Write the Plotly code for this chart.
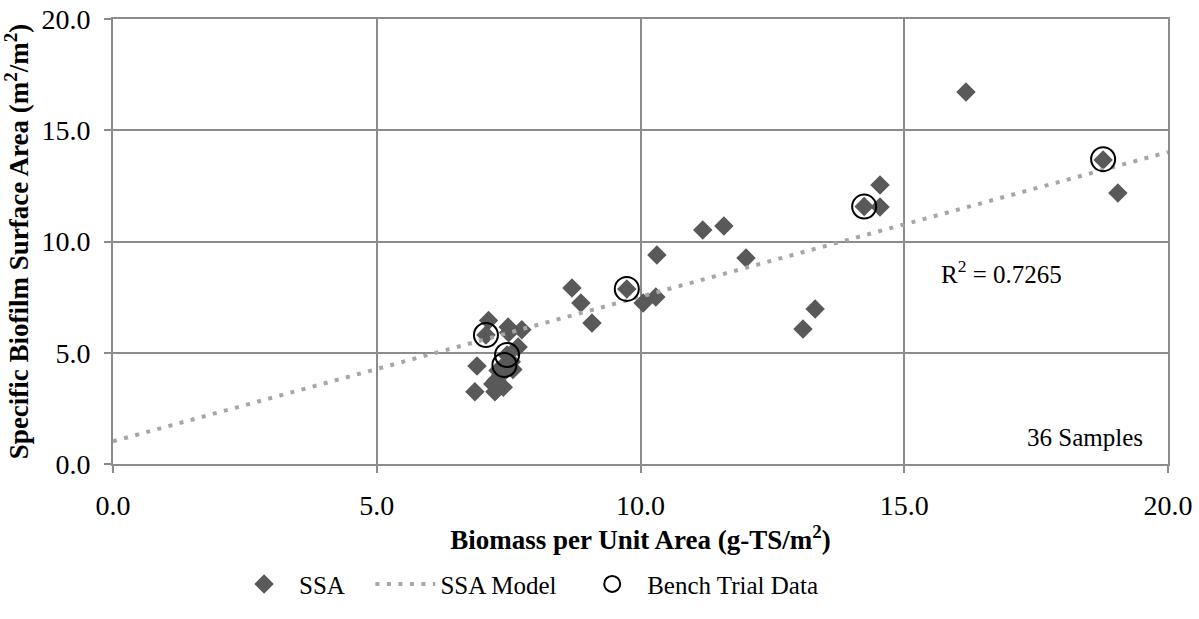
import numpy as np
import plotly.graph_objects as go

# SSA samples (biomass g-TS/m2, SSA m2/m2)
ssa_x = [16.17, 18.77, 19.05, 14.54, 14.54, 14.24, 11.18, 11.58, 12.00, 13.08,
         13.31, 10.31, 9.74, 10.05, 10.29, 8.70, 8.87, 9.08,
         7.12, 7.07, 7.49, 7.75, 7.50, 7.68, 7.47, 7.42, 6.90, 6.86,
         7.24, 7.26, 7.58, 7.35, 7.40, 7.20, 7.55, 7.30]
ssa_y = [16.72, 13.66, 12.18, 12.54, 11.55, 11.57, 10.52, 10.70, 9.26, 6.07,
         6.97, 9.39, 7.87, 7.24, 7.51, 7.91, 7.24, 6.34,
         6.45, 5.80, 6.16, 6.03, 5.90, 5.26, 4.90, 4.45, 4.40, 3.25,
         3.25, 3.75, 4.25, 4.00, 3.45, 3.60, 4.60, 4.20]

# Bench trial data (circled)
bench_x = [7.07, 7.47, 7.42, 9.74, 14.24, 18.77]
bench_y = [5.80, 4.90, 4.45, 7.87, 11.57, 13.70]

# Linear SSA model
model_slope = 0.65
model_intercept = 1.02
model_range = [0.0, 20.0]

r2_label = "R<sup>2</sup> = 0.7265"
samples_label = "36 Samples"

mx = np.linspace(model_range[0], model_range[1], 50)
my = model_slope * mx + model_intercept

font_family = "Liberation Serif, Times New Roman, serif"

fig = go.Figure()
fig.add_trace(go.Scatter(
    x=ssa_x, y=ssa_y, mode="markers", name="SSA", legend="legend",
    marker=dict(symbol="diamond", size=15, color="#595959", line=dict(width=0)),
))
fig.add_trace(go.Scatter(
    x=mx, y=my, mode="lines", name="SSA Model", legend="legend2",
    line=dict(color="#A6A6A6", width=4, dash="4px,7.5px"),
))
fig.add_trace(go.Scatter(
    x=bench_x, y=bench_y, mode="markers", name="Bench Trial Data", legend="legend3",
    marker=dict(symbol="circle-open", size=24, color="black", line=dict(width=2, color="black")),
))

fig.add_annotation(x=16.85, y=8.63, xref="x", yref="y", text=r2_label, showarrow=False,
                   font=dict(size=25, color="black", family=font_family), xanchor="center", yanchor="middle")
fig.add_annotation(x=19.56, y=1.21, xref="x", yref="y", text=samples_label, showarrow=False,
                   font=dict(size=25, color="black", family=font_family), xanchor="right", yanchor="middle")

axis_common = dict(
    showgrid=True, gridcolor="#8C8C8C", gridwidth=2,
    showline=True, linecolor="#8C8C8C", linewidth=2, mirror=True,
    ticks="outside", tickcolor="#8C8C8C", ticklen=7, tickwidth=2,
    zeroline=False, tickformat=".1f", automargin=False,
    ticklabeloverflow="allow",
    tickfont=dict(size=28, color="black", family=font_family),
)

leg_font = dict(size=25, color="black", family=font_family)
leg_common = dict(orientation="h", yanchor="middle", xanchor="left", y=-0.27,
                  font=leg_font, bgcolor="rgba(0,0,0,0)", borderwidth=0, itemwidth=60)

fig.update_layout(
    width=1199, height=619,
    margin=dict(l=113, r=31, t=19, b=155),
    paper_bgcolor="white", plot_bgcolor="white",
    font=dict(family=font_family, color="black"),
    xaxis=dict(range=[0, 20], dtick=5, **axis_common, ticklabelstandoff=8,
               title=dict(text="<b>Biomass per Unit Area (g-TS/m<sup>2</sup>)</b>",
                          font=dict(size=27, color="black", family=font_family), standoff=2)),
    yaxis=dict(range=[0, 20], dtick=5, **axis_common, ticklabelstandoff=8,
               title=dict(text="<b>Specific Biofilm Surface Area (m<sup>2</sup>/m<sup>2</sup>)</b>",
                          font=dict(size=27, color="black", family=font_family), standoff=6)),
    showlegend=True,
    legend=dict(x=0.11, **leg_common),
    legend2=dict(x=0.244, **leg_common),
    legend3=dict(x=0.44, **leg_common),
)

fig.write_html("out.html", config={"displayModeBar": False},
               post_script="document.body.style.margin='0';document.body.style.overflow='hidden';")
